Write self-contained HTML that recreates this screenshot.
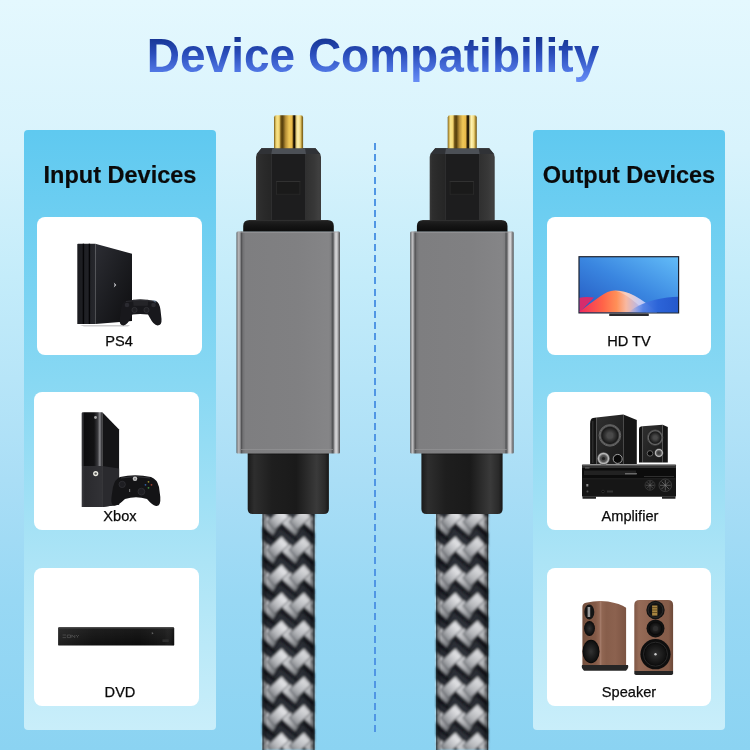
<!DOCTYPE html>
<html><head><meta charset="utf-8">
<style>
html,body{margin:0;padding:0}
body{width:750px;height:750px;position:relative;overflow:hidden;font-family:"Liberation Sans",sans-serif;
background:linear-gradient(to bottom,#e4f8fe 0%,#d8f3fc 20%,#c4ecfa 37%,#aadef6 64%,#98d8f4 80%,#8bd3f2 100%);}
.abs{position:absolute}
.title{position:absolute;left:-2px;width:750px;top:23.4px;text-align:center;font-size:46px;font-weight:700;line-height:64px;white-space:nowrap;transform:scaleY(1.05);transform-origin:50% 50%;background:linear-gradient(to bottom,#0c2480 0%,#14328f 22%,#2a4dbb 48%,#5279e6 76%,#6a8ff6 91%,#6d92f8 100%);-webkit-background-clip:text;background-clip:text;color:transparent}
.panel{position:absolute;top:130px;width:192px;height:600px;border-radius:4px;
background:linear-gradient(to bottom,#5fc9f0 0%,#88d8f3 42%,#ace4f6 72%,#c9eefa 100%)}
.ph{will-change:transform;position:absolute;left:0;width:100%;top:29.8px;text-align:center;font-size:23.5px;font-weight:700;color:#0a0a0a;-webkit-text-stroke:0.2px #0a0a0a;line-height:30px;white-space:nowrap}
.card{position:absolute;width:165px;height:138px;background:#fff;border-radius:8px}
.lbl{will-change:transform;position:absolute;width:100px;bottom:4.6px;text-align:center;font-size:14.6px;color:#0a0a0a;-webkit-text-stroke:0.25px #0a0a0a;line-height:18px;white-space:nowrap}
.dash{position:absolute;left:374px;top:143px;width:2px;height:593px;
background:repeating-linear-gradient(to bottom,#5096e4 0,#5096e4 7px,transparent 7px,transparent 11.2px)}
svg{position:absolute;left:0;top:0}
</style></head>
<body>
<div class="title">Device Compatibility</div>

<div class="panel" style="left:24px"><div class="ph">Input Devices</div></div>
<div class="panel" style="left:533px"><div class="ph">Output Devices</div></div>

<div class="dash"></div>

<div class="card" style="left:37px;top:217px"><div class="lbl" style="left:32.2px">PS4</div></div>
<div class="card" style="left:34px;top:392px"><div class="lbl" style="left:35.9px">Xbox</div></div>
<div class="card" style="left:34px;top:568px"><div class="lbl" style="left:35.5px">DVD</div></div>
<div class="card" style="left:547px;top:217px;width:164px"><div class="lbl" style="left:31.6px">HD TV</div></div>
<div class="card" style="left:547px;top:392px;width:164px"><div class="lbl" style="left:32.8px">Amplifier</div></div>
<div class="card" style="left:547px;top:568px;width:164px"><div class="lbl" style="left:32.3px">Speaker</div></div>

<svg width="750" height="750" viewBox="0 0 750 750">
<defs>
  <linearGradient id="gold" x1="0" x2="1" y1="0" y2="0">
    <stop offset="0" stop-color="#6a5218"/>
    <stop offset="0.04" stop-color="#c8a848"/>
    <stop offset="0.1" stop-color="#f8e48a"/>
    <stop offset="0.18" stop-color="#f2d470"/>
    <stop offset="0.24" stop-color="#6a4e12"/>
    <stop offset="0.3" stop-color="#5a420e"/>
    <stop offset="0.4" stop-color="#b89038"/>
    <stop offset="0.52" stop-color="#f0c858"/>
    <stop offset="0.62" stop-color="#e8b848"/>
    <stop offset="0.67" stop-color="#3a2806"/>
    <stop offset="0.71" stop-color="#120c02"/>
    <stop offset="0.76" stop-color="#d8c070"/>
    <stop offset="0.82" stop-color="#fff2b0"/>
    <stop offset="0.9" stop-color="#f0d880"/>
    <stop offset="0.96" stop-color="#a08028"/>
    <stop offset="1" stop-color="#6a5218"/>
  </linearGradient>
  <linearGradient id="metal" gradientUnits="userSpaceOnUse" x1="236.5" x2="340" y1="0" y2="0">
    <stop offset="0.0000" stop-color="#4e4e50"/>
    <stop offset="0.0077" stop-color="#8a8a8c"/>
    <stop offset="0.0222" stop-color="#bcbcbe"/>
    <stop offset="0.0367" stop-color="#909092"/>
    <stop offset="0.0464" stop-color="#505052"/>
    <stop offset="0.0628" stop-color="#727274"/>
    <stop offset="0.0870" stop-color="#7e7e80"/>
    <stop offset="0.5797" stop-color="#808082"/>
    <stop offset="0.8889" stop-color="#858587"/>
    <stop offset="0.9130" stop-color="#7e7e80"/>
    <stop offset="0.9256" stop-color="#505254"/>
    <stop offset="0.9372" stop-color="#6e6e70"/>
    <stop offset="0.9527" stop-color="#c8c8ca"/>
    <stop offset="0.9700" stop-color="#d2d2d4"/>
    <stop offset="0.9855" stop-color="#8a8a8c"/>
    <stop offset="1.0000" stop-color="#505052"/>
  </linearGradient>
  <linearGradient id="flange" x1="0" x2="0" y1="0" y2="1">
    <stop offset="0" stop-color="#2e2e2e"/>
    <stop offset="0.15" stop-color="#1e1e1e"/>
    <stop offset="0.5" stop-color="#151515"/>
    <stop offset="1" stop-color="#0c0c0c"/>
  </linearGradient>
  <linearGradient id="plug" gradientUnits="userSpaceOnUse" x1="256" x2="321" y1="0" y2="0">
    <stop offset="0" stop-color="#3a3a3a"/>
    <stop offset="0.04" stop-color="#2e2e2e"/>
    <stop offset="0.12" stop-color="#2a2a2a"/>
    <stop offset="0.23" stop-color="#262626"/>
    <stop offset="0.77" stop-color="#303030"/>
    <stop offset="0.9" stop-color="#383838"/>
    <stop offset="0.97" stop-color="#404040"/>
    <stop offset="1" stop-color="#3a3a3a"/>
  </linearGradient>
  <linearGradient id="boot" x1="0" x2="1" y1="0" y2="0">
    <stop offset="0" stop-color="#1a1a1a"/>
    <stop offset="0.08" stop-color="#2e2e2e"/>
    <stop offset="0.3" stop-color="#1e1e1e"/>
    <stop offset="0.6" stop-color="#1a1a1a"/>
    <stop offset="0.85" stop-color="#3a3a3a"/>
    <stop offset="0.95" stop-color="#2a2a2a"/>
    <stop offset="1" stop-color="#161616"/>
  </linearGradient>
  <linearGradient id="cableShade" gradientUnits="userSpaceOnUse" x1="262.5" x2="314.5" y1="0" y2="0">
    <stop offset="0" stop-color="#000" stop-opacity="0.85"/>
    <stop offset="0.03" stop-color="#000" stop-opacity="0.4"/>
    <stop offset="0.1" stop-color="#000" stop-opacity="0.05"/>
    <stop offset="0.5" stop-color="#fff" stop-opacity="0.03"/>
    <stop offset="0.9" stop-color="#000" stop-opacity="0.08"/>
    <stop offset="0.97" stop-color="#000" stop-opacity="0.4"/>
    <stop offset="1" stop-color="#000" stop-opacity="0.85"/>
  </linearGradient>
  <linearGradient id="strand" x1="0" x2="0" y1="0" y2="1">
    <stop offset="0" stop-color="#d8d8da"/>
    <stop offset="1" stop-color="#8a8c90"/>
  </linearGradient>
  <linearGradient id="sL" gradientUnits="objectBoundingBox" x1="1" y1="0" x2="0" y2="1">
    <stop offset="0" stop-color="#a8aaae"/>
    <stop offset="0.3" stop-color="#e2e3e6"/>
    <stop offset="0.6" stop-color="#b8babe"/>
    <stop offset="1" stop-color="#5e6166"/>
  </linearGradient>
  <linearGradient id="sR" gradientUnits="objectBoundingBox" x1="0" y1="0" x2="1" y2="1">
    <stop offset="0" stop-color="#a0a2a6"/>
    <stop offset="0.28" stop-color="#dcdde0"/>
    <stop offset="0.65" stop-color="#a4a6aa"/>
    <stop offset="1" stop-color="#52555a"/>
  </linearGradient>
  <filter id="soft" x="-5%" y="-5%" width="110%" height="110%"><feGaussianBlur stdDeviation="0.8"/></filter>
  <pattern id="braid" patternUnits="userSpaceOnUse" width="22.3" height="28" x="269.5" y="623.3">
    <rect width="22.3" height="28" fill="#16191f"/>
    <path d="M-12.32 -38.67 L6.70 -23.62 L0.60 -12.97 L-17.58 -29.73 Z" fill="#3a3d44" opacity="0.45"/><path d="M-12.32 -10.67 L6.70 4.38 L0.60 15.03 L-17.58 -1.73 Z" fill="#3a3d44" opacity="0.45"/><path d="M-12.32 17.33 L6.70 32.38 L0.60 43.03 L-17.58 26.27 Z" fill="#3a3d44" opacity="0.45"/><path d="M9.98 -38.67 L29.00 -23.62 L22.90 -12.97 L4.72 -29.73 Z" fill="#3a3d44" opacity="0.45"/><path d="M9.98 -10.67 L29.00 4.38 L22.90 15.03 L4.72 -1.73 Z" fill="#3a3d44" opacity="0.45"/><path d="M9.98 17.33 L29.00 32.38 L22.90 43.03 L4.72 26.27 Z" fill="#3a3d44" opacity="0.45"/><path d="M32.28 -38.67 L51.30 -23.62 L45.20 -12.97 L27.02 -29.73 Z" fill="#3a3d44" opacity="0.45"/><path d="M32.28 -10.67 L51.30 4.38 L45.20 15.03 L27.02 -1.73 Z" fill="#3a3d44" opacity="0.45"/><path d="M32.28 17.33 L51.30 32.38 L45.20 43.03 L27.02 26.27 Z" fill="#3a3d44" opacity="0.45"/>
    <g><path d="M-9.32 -29.17 L9.70 -14.12 L3.60 -3.47 L-14.58 -20.23 Z" fill="url(#sR)" stroke="#33363c" stroke-width="0.9"/><path d="M-9.32 -1.17 L9.70 13.88 L3.60 24.53 L-14.58 7.77 Z" fill="url(#sR)" stroke="#33363c" stroke-width="0.9"/><path d="M-9.32 26.83 L9.70 41.88 L3.60 52.53 L-14.58 35.77 Z" fill="url(#sR)" stroke="#33363c" stroke-width="0.9"/><path d="M12.98 -29.17 L32.00 -14.12 L25.90 -3.47 L7.72 -20.23 Z" fill="url(#sR)" stroke="#33363c" stroke-width="0.9"/><path d="M12.98 -1.17 L32.00 13.88 L25.90 24.53 L7.72 7.77 Z" fill="url(#sR)" stroke="#33363c" stroke-width="0.9"/><path d="M12.98 26.83 L32.00 41.88 L25.90 52.53 L7.72 35.77 Z" fill="url(#sR)" stroke="#33363c" stroke-width="0.9"/><path d="M35.28 -29.17 L54.30 -14.12 L48.20 -3.47 L30.02 -20.23 Z" fill="url(#sR)" stroke="#33363c" stroke-width="0.9"/><path d="M35.28 -1.17 L54.30 13.88 L48.20 24.53 L30.02 7.77 Z" fill="url(#sR)" stroke="#33363c" stroke-width="0.9"/><path d="M35.28 26.83 L54.30 41.88 L48.20 52.53 L30.02 35.77 Z" fill="url(#sR)" stroke="#33363c" stroke-width="0.9"/></g>
    <g><path d="M-10.06 -31.25 L-2.82 -22.88 L-17.30 -9.25 L-24.83 -17.62 Z" fill="url(#sL)" stroke="#3a3d43" stroke-width="0.9"/><path d="M-10.06 -3.25 L-2.82 5.12 L-17.30 18.75 L-24.83 10.38 Z" fill="url(#sL)" stroke="#3a3d43" stroke-width="0.9"/><path d="M-10.06 24.75 L-2.82 33.12 L-17.30 46.75 L-24.83 38.38 Z" fill="url(#sL)" stroke="#3a3d43" stroke-width="0.9"/><path d="M12.24 -31.25 L19.48 -22.88 L5.00 -9.25 L-2.53 -17.62 Z" fill="url(#sL)" stroke="#3a3d43" stroke-width="0.9"/><path d="M12.24 -3.25 L19.48 5.12 L5.00 18.75 L-2.53 10.38 Z" fill="url(#sL)" stroke="#3a3d43" stroke-width="0.9"/><path d="M12.24 24.75 L19.48 33.12 L5.00 46.75 L-2.53 38.38 Z" fill="url(#sL)" stroke="#3a3d43" stroke-width="0.9"/><path d="M34.54 -31.25 L41.78 -22.88 L27.30 -9.25 L19.77 -17.62 Z" fill="url(#sL)" stroke="#3a3d43" stroke-width="0.9"/><path d="M34.54 -3.25 L41.78 5.12 L27.30 18.75 L19.77 10.38 Z" fill="url(#sL)" stroke="#3a3d43" stroke-width="0.9"/><path d="M34.54 24.75 L41.78 33.12 L27.30 46.75 L19.77 38.38 Z" fill="url(#sL)" stroke="#3a3d43" stroke-width="0.9"/></g>
  </pattern>
  <g id="conn">
    <!-- cable -->
    <rect x="262.5" y="510" width="52" height="240" fill="url(#braid)" filter="url(#soft)"/>
    <rect x="262.5" y="510" width="52" height="240" fill="url(#cableShade)"/>
    <!-- strain relief -->
    <path d="M247.7 452 H328.9 V509 Q328.9 514 324 514 H252.7 Q247.7 514 247.7 509 Z" fill="url(#boot)"/>
    <rect x="247.7" y="453.5" width="81.2" height="1.5" fill="#000" opacity="0.15"/>
    <!-- housing -->
    <path d="M236.5 233 Q236.5 231.6 238 231.6 H338.5 Q340 231.6 340 233 V452.5 Q340 453.5 339 453.5 H237.5 Q236.5 453.5 236.5 452.5 Z" fill="url(#metal)"/>
    <rect x="238" y="231.6" width="100.5" height="1" fill="#a8a8aa" opacity="0.7"/>
    <rect x="241" y="449" width="92" height="0.8" fill="#939395" opacity="0.9"/>
    <!-- flange -->
    <path d="M249.5 219.9 H327.5 Q333.8 219.9 333.8 226 V231.6 H243.2 V226 Q243.2 219.9 249.5 219.9 Z" fill="url(#flange)"/>
    <path d="M249 220.5 H328" stroke="#333" stroke-width="0.6"/>
    <!-- plug body -->
    <path d="M256 157 L256.6 154.5 L261.5 148.2 H315.5 L320.4 154.5 L321 157 V219.9 H256 Z" fill="url(#plug)"/>
    <path d="M261.5 148.2 H315.5 L320.4 154 H256.6 Z" fill="#303236"/>
    <path d="M272.3 148.2 H305 L306 154 H271.3 Z" fill="#4c5056"/>
    <rect x="271.3" y="154" width="34.7" height="65.9" fill="#1d1d1e"/>
    <rect x="271.3" y="154" width="0.6" height="65.9" fill="#3a3a3a"/>
    <rect x="305.4" y="154" width="0.6" height="65.9" fill="#3e3e3e"/>
    <rect x="276" y="181.3" width="24.3" height="13" fill="#1a1a1a"/>
    <rect x="276" y="181" width="24.3" height="0.8" fill="#383838"/>
    <rect x="276" y="193.8" width="24.3" height="0.7" fill="#2c2c2c"/>
    <rect x="276" y="181" width="0.7" height="13.5" fill="#2e2e2e"/>
    <rect x="299.6" y="181" width="0.7" height="13.5" fill="#2e2e2e"/>
    <!-- gold pin -->
    <path d="M274 117.5 Q274 115.3 276.5 115.3 H300.6 Q303.1 115.3 303.1 117.5 V148.2 H274 Z" fill="url(#gold)"/>
  </g>
</defs>
<use href="#conn"/>
<use href="#conn" transform="translate(173.7 0)"/>
</svg>
<svg width="750" height="750" viewBox="0 0 750 750" style="position:absolute;left:0;top:0">
<defs>
  <linearGradient id="ps4face" x1="0" y1="0" x2="1" y2="1">
    <stop offset="0" stop-color="#2c2d33"/>
    <stop offset="0.5" stop-color="#1c1d21"/>
    <stop offset="1" stop-color="#0e0e10"/>
  </linearGradient>
  <linearGradient id="ps4side" x1="0" y1="0" x2="1" y2="0">
    <stop offset="0" stop-color="#1a1b1f"/>
    <stop offset="1" stop-color="#26272c"/>
  </linearGradient>
  <linearGradient id="xfront" x1="0" y1="0" x2="1" y2="0">
    <stop offset="0" stop-color="#222226"/>
    <stop offset="0.06" stop-color="#3a3a3e"/>
    <stop offset="0.12" stop-color="#0c0c0e"/>
    <stop offset="0.6" stop-color="#121214"/>
    <stop offset="0.78" stop-color="#3a3a3e"/>
    <stop offset="0.88" stop-color="#8a8a8e"/>
    <stop offset="0.95" stop-color="#4a4a4e"/>
    <stop offset="1" stop-color="#1a1a1c"/>
  </linearGradient>
  <linearGradient id="xfrontlow" x1="0" y1="0" x2="1" y2="0">
    <stop offset="0" stop-color="#3a3a3e"/>
    <stop offset="0.15" stop-color="#2a2a2e"/>
    <stop offset="1" stop-color="#323236"/>
  </linearGradient>
  <linearGradient id="dvdh" x1="0" y1="0" x2="1" y2="0">
    <stop offset="0" stop-color="#fff" stop-opacity="0.08"/>
    <stop offset="0.3" stop-color="#fff" stop-opacity="0.02"/>
    <stop offset="0.7" stop-color="#fff" stop-opacity="0"/>
    <stop offset="0.92" stop-color="#fff" stop-opacity="0.04"/>
    <stop offset="1" stop-color="#000" stop-opacity="0.2"/>
  </linearGradient>
  <linearGradient id="dvdg" x1="0" y1="0" x2="0" y2="1">
    <stop offset="0" stop-color="#2a2a2a"/>
    <stop offset="0.1" stop-color="#1a1a1a"/>
    <stop offset="1" stop-color="#0c0c0c"/>
  </linearGradient>
  <linearGradient id="tvbg" x1="0" y1="1" x2="1" y2="0">
    <stop offset="0" stop-color="#2458c0"/>
    <stop offset="0.5" stop-color="#3a86e0"/>
    <stop offset="1" stop-color="#62bcf8"/>
  </linearGradient>
  <linearGradient id="dune" gradientUnits="userSpaceOnUse" x1="579.6" y1="0" x2="657" y2="0">
    <stop offset="0" stop-color="#f22a5c"/>
    <stop offset="0.3" stop-color="#ff6448"/>
    <stop offset="0.48" stop-color="#ff9058"/>
    <stop offset="0.6" stop-color="#f8b8a0"/>
    <stop offset="0.78" stop-color="#b0b8f0"/>
    <stop offset="1" stop-color="#5a88e8"/>
  </linearGradient>
  <linearGradient id="wave" gradientUnits="userSpaceOnUse" x1="628" y1="0" x2="678" y2="0">
    <stop offset="0" stop-color="#7a9cf0" stop-opacity="0"/>
    <stop offset="0.3" stop-color="#4a7ce4" stop-opacity="0.9"/>
    <stop offset="0.6" stop-color="#2c64d8"/>
    <stop offset="1" stop-color="#2458cc"/>
  </linearGradient>
  <linearGradient id="wood" x1="0" y1="0" x2="1" y2="0">
    <stop offset="0" stop-color="#8a5a42"/>
    <stop offset="0.3" stop-color="#a27058"/>
    <stop offset="0.6" stop-color="#90604a"/>
    <stop offset="1" stop-color="#7a4e38"/>
  </linearGradient>
  <linearGradient id="spkface" x1="0" y1="0" x2="1" y2="1">
    <stop offset="0" stop-color="#303030"/>
    <stop offset="0.5" stop-color="#242424"/>
    <stop offset="1" stop-color="#1a1a1a"/>
  </linearGradient>
  <linearGradient id="wood2" x1="0" y1="0" x2="1" y2="0">
    <stop offset="0" stop-color="#74503e"/>
    <stop offset="0.3" stop-color="#845a47"/>
    <stop offset="0.4" stop-color="#956a56"/>
    <stop offset="0.55" stop-color="#875e4b"/>
    <stop offset="0.75" stop-color="#8c624f"/>
    <stop offset="1" stop-color="#7c5442"/>
  </linearGradient>
  <linearGradient id="wood3" x1="0" y1="0" x2="1" y2="0">
    <stop offset="0" stop-color="#7e5645"/>
    <stop offset="0.12" stop-color="#966b57"/>
    <stop offset="0.5" stop-color="#8a604d"/>
    <stop offset="0.88" stop-color="#855c49"/>
    <stop offset="1" stop-color="#6c4838"/>
  </linearGradient>
  <radialGradient id="cone" cx="0.5" cy="0.5" r="0.5">
    <stop offset="0" stop-color="#2a2a2a"/>
    <stop offset="0.3" stop-color="#444"/>
    <stop offset="0.75" stop-color="#1a1a1a"/>
    <stop offset="0.9" stop-color="#666"/>
    <stop offset="1" stop-color="#222"/>
  </radialGradient>
  <radialGradient id="silver" cx="0.5" cy="0.5" r="0.5">
    <stop offset="0" stop-color="#333"/>
    <stop offset="0.5" stop-color="#555"/>
    <stop offset="0.8" stop-color="#bbb"/>
    <stop offset="1" stop-color="#666"/>
  </radialGradient>
  <radialGradient id="wcone" cx="0.5" cy="0.5" r="0.5">
    <stop offset="0" stop-color="#333"/>
    <stop offset="0.4" stop-color="#222"/>
    <stop offset="0.85" stop-color="#111"/>
    <stop offset="1" stop-color="#050505"/>
  </radialGradient>
</defs>

<!-- ===== PS4 ===== -->
<path d="M77.3 244.5 Q77.3 243.7 78 243.7 H95.3 V324 H77.3 Z" fill="url(#ps4side)"/>
<rect x="82.7" y="243.7" width="1.4" height="80.3" fill="#050507"/>
<rect x="88.7" y="243.7" width="1.4" height="80.3" fill="#050507"/>
<path d="M95.3 243.7 L132 253.7 V321 L95.3 324 Z" fill="url(#ps4face)"/>
<path d="M113.8 282.5 L116.3 285 L113.8 287.5 L114.6 285 Z" fill="#cfd0d4"/>
<path d="M80 325 H130 L128 326.5 H84 Z" fill="#9a9a9c" opacity="0.5"/>
<!-- DS4 controller -->
<path d="M125 301 Q140 298 156 301 Q159.5 302.5 160.5 310 L161.5 319 Q162 325.5 157.5 325.5 Q153.5 325 150 318 L148 314.5 Q140 313.5 132.5 314.5 L130.5 318 Q127.5 325 123.5 325.5 Q119 325.5 119.8 319 L120.8 310 Q121.8 302.5 125 301 Z" fill="#18181c"/>
<path d="M133 299.7 H148.3 L147.8 305.7 H133.5 Z" fill="#242428"/>
<path d="M126 301.5 Q140 298.5 155 301.5" fill="none" stroke="#34343a" stroke-width="0.7"/>
<circle cx="127" cy="305" r="2.3" fill="#2a2a30"/>
<circle cx="153.5" cy="305" r="2.3" fill="#2a2a30"/>
<circle cx="134.5" cy="310" r="2.6" fill="#202024" stroke="#3a3a40" stroke-width="0.6"/>
<circle cx="146.5" cy="310" r="2.6" fill="#202024" stroke="#3a3a40" stroke-width="0.6"/>
<path d="M152 300 L156 300.8 L155.5 303 Z" fill="#7a9ab8" opacity="0.6"/>

<!-- ===== XBOX ===== -->
<path d="M102.3 412.3 L119.1 429.5 V504.7 L102.3 507 Z" fill="#141416"/>
<path d="M102.3 466 L119.1 468.5 V504.7 L102.3 507 Z" fill="#2a2a2e"/>
<path d="M83 412.3 H102.3 V466 H81.7 V413.6 Q81.7 412.3 83 412.3 Z" fill="url(#xfront)"/>
<path d="M81.7 466 H102.3 V507 H81.7 Z" fill="url(#xfrontlow)"/>
<circle cx="95.7" cy="473.6" r="2.6" fill="#e8e8e0"/>
<circle cx="95.7" cy="473.6" r="1.2" fill="#555"/>
<circle cx="95.5" cy="417.5" r="1.4" fill="#aaa"/>
<!-- Xbox one controller -->
<path d="M120 477 Q135 473.5 151 477 Q157 479 159 487 L160.3 497 Q161 506.5 156 506 Q152 505 147 499 Q136 495.5 125 499 Q119 505 114.5 505.5 Q110.5 506 111.5 497 L113 487 Q115 479 120 477 Z" fill="#141416"/>
<path d="M121 478 Q135 475 150 478" fill="none" stroke="#3a3a3e" stroke-width="0.8"/>
<circle cx="135" cy="478.8" r="2.3" fill="#c8c8c8"/>
<path d="M134 477.8 L136 479.8 M136 477.8 L134 479.8" stroke="#555" stroke-width="0.5"/>
<circle cx="122.2" cy="484.4" r="3.2" fill="#1e1e22" stroke="#38383c" stroke-width="0.6"/>
<circle cx="141.4" cy="491.6" r="3.4" fill="#1e1e22" stroke="#38383c" stroke-width="0.6"/>
<circle cx="148.5" cy="481.8" r="0.9" fill="#a09030"/>
<circle cx="151.5" cy="484.8" r="0.9" fill="#a04030"/>
<circle cx="145.5" cy="484.8" r="0.9" fill="#3060a0"/>
<circle cx="148.5" cy="487.8" r="0.9" fill="#409040"/>
<rect x="129" y="489" width="1.2" height="3" fill="#aaa" opacity="0.6"/>

<!-- ===== DVD ===== -->
<rect x="58.1" y="627.2" width="116.1" height="18.4" rx="1.2" fill="url(#dvdg)"/>
<rect x="58.6" y="627.2" width="115" height="1.2" fill="#4a4a4a"/>
<rect x="58.1" y="628.4" width="116.1" height="17.2" fill="url(#dvdh)"/>
<path d="M62.6 635 H66 M62.6 637.6 H66 M67.3 635 H70.5 V637.6 H67.3 Z M71.8 637.6 V635 L74.8 637.6 V635 M76 635 L77.5 636.5 L79 635 M77.5 636.5 V637.6" fill="none" stroke="#5e5e5e" stroke-width="0.6"/>
<rect x="162.5" y="639.3" width="6.3" height="2.7" fill="#2e2e2e"/>
<path d="M151.8 632 L153.6 633.2 L151.8 634.4 Z" fill="#666"/>

<!-- ===== TV ===== -->
<rect x="578.4" y="256.1" width="100.8" height="57.4" fill="#1c2230"/>
<rect x="579.6" y="257.3" width="98.4" height="55" fill="url(#tvbg)"/>
<path d="M579.6 297.8 Q586 296.5 594 297.6 L579.6 312.3 Z" fill="#d62c6c"/>
<path d="M579.6 311.5 Q590 303.5 600 296.5 Q608 290.8 614.2 290.6 Q624 290.5 634 295.5 Q646 302 657 312.3 H579.6 Z" fill="url(#dune)"/>
<path d="M614.2 290.6 Q626 290.8 636 296.5 Q648 303.5 657 312.3 H646 Q636 302 626 295.5 Q620 291.8 614.2 290.6 Z" fill="#fff" opacity="0.3"/>
<path d="M628 312.3 Q640 303.5 655 299.8 Q668 297 678 296.8 V312.3 Z" fill="url(#wave)"/>
<rect x="609.2" y="313.5" width="39.6" height="2.6" rx="0.6" fill="#2a2a2e"/>

<!-- ===== AMPLIFIER ===== -->
<!-- big speaker -->
<path d="M623.3 414.5 L636.8 420 V464 H623.3 Z" fill="#161616"/>
<path d="M596.5 417.5 L623.3 414.5 V464 H596.5 Z" fill="url(#spkface)"/>
<path d="M593 418 L596.5 417.5 V464 H590.1 V424 Q590.1 418.5 593 418 Z" fill="#141414"/>
<rect x="592.2" y="421" width="1.2" height="42" fill="#3a3a3a" opacity="0.8"/>
<circle cx="609.9" cy="435.4" r="10.8" fill="url(#cone)"/>
<circle cx="609.9" cy="435.4" r="10.8" fill="none" stroke="#8a8a8a" stroke-width="0.6"/>
<circle cx="609.9" cy="435.4" r="3.2" fill="#4a4a4a"/>
<circle cx="603.5" cy="458.5" r="6.3" fill="url(#silver)"/>
<circle cx="603.5" cy="458.5" r="1.6" fill="#222"/>
<circle cx="617.7" cy="458.9" r="4.5" fill="#080808" stroke="#a0a0a0" stroke-width="1"/>
<!-- small speaker -->
<path d="M662.6 424.8 L667.8 427 V462.4 H662.6 Z" fill="#141414"/>
<path d="M642.5 426.2 L662.6 424.8 V462.4 H642.5 Z" fill="url(#spkface)"/>
<path d="M641 426.4 L642.5 426.2 V462.4 H639 V429 Q639 426.6 641 426.4 Z" fill="#121212"/>
<circle cx="655.2" cy="437.6" r="7.6" fill="url(#cone)"/>
<circle cx="655.2" cy="437.6" r="7.6" fill="none" stroke="#7a7a7a" stroke-width="0.5"/>
<circle cx="655.2" cy="437.6" r="2.2" fill="#4a4a4a"/>
<circle cx="658.9" cy="452.9" r="4.4" fill="url(#silver)"/>
<circle cx="650" cy="453.4" r="2.8" fill="#080808" stroke="#8a8a8a" stroke-width="0.7"/>
<!-- receiver -->
<rect x="582" y="464.7" width="94" height="32" rx="0.8" fill="#161616"/>
<rect x="582" y="464.7" width="94" height="3.3" fill="#333"/>
<rect x="582.5" y="464.9" width="93" height="0.7" fill="#6a6a6a"/>
<rect x="582.5" y="468" width="93" height="10.5" fill="#0c0c0c"/>
<rect x="584" y="470.5" width="52" height="4.5" fill="#2c2c2c" opacity="0.7"/>
<rect x="585" y="467.5" width="4.5" height="1" fill="#888" opacity="0.7"/>
<rect x="625" y="473" width="12" height="1.4" fill="#9a9a9a" opacity="0.6"/>
<rect x="644" y="476" width="30" height="0.8" fill="#666" opacity="0.5"/>
<rect x="582.5" y="478.5" width="93" height="0.7" fill="#2a2a2a"/>
<circle cx="650" cy="485.3" r="5" fill="#1a1a1a" stroke="#444" stroke-width="0.6"/>
<path d="M650 481 V489.6 M645.7 485.3 H654.3 M647 482.3 L653 488.3 M653 482.3 L647 488.3" stroke="#8a8a8a" stroke-width="0.5" opacity="0.8"/>
<circle cx="665.3" cy="485.3" r="6.3" fill="#1a1a1a" stroke="#4a4a4a" stroke-width="0.7"/>
<path d="M665.3 480 V490.6 M660 485.3 H670.6 M661.6 481.6 L669 489 M669 481.6 L661.6 489" stroke="#9a9a9a" stroke-width="0.6" opacity="0.8"/>
<rect x="586.3" y="484" width="2" height="2.5" fill="#aaa" opacity="0.8"/>
<circle cx="587.5" cy="491.5" r="1" fill="#555"/>
<circle cx="603" cy="491.5" r="1.3" fill="#050505" stroke="#555" stroke-width="0.4"/>
<rect x="607" y="490.5" width="6" height="2" fill="#333"/>
<rect x="582.5" y="496.6" width="13.5" height="2.1" rx="0.5" fill="#222"/>
<rect x="662" y="496.6" width="13.5" height="2.1" rx="0.5" fill="#222"/>

<!-- ===== SPEAKERS ===== -->
<!-- left angled -->
<path d="M582.4 607 Q582.4 603.5 586 602.8 Q597 600 608 601.5 Q620 603.5 626.1 607.7 V665.3 H582.4 Z" fill="url(#wood2)"/>
<rect x="599.8" y="601" width="1.6" height="64.3" fill="#a98270" opacity="0.7"/>
<path d="M582 665 H628 Q629 668 626 670.7 H584 Q581 668 582 665 Z" fill="#262626"/>
<ellipse cx="589.3" cy="612" rx="5" ry="7.6" fill="#141414"/>
<rect x="587.6" y="607" width="2.6" height="10" fill="#9a9a9a"/>
<ellipse cx="589.5" cy="628.5" rx="5.4" ry="7.4" fill="url(#wcone)"/>
<ellipse cx="591" cy="651.5" rx="8.5" ry="11.8" fill="url(#wcone)"/>
<!-- right frontal -->
<path d="M634.3 605 Q634.3 599.9 639.5 599.9 H668 Q673.1 599.9 673.1 605 V671 H634.3 Z" fill="url(#wood3)"/>
<path d="M634.3 671 H673.1 V673.5 Q673.1 674.9 671.5 674.9 H636 Q634.3 674.9 634.3 673.5 Z" fill="#242424"/>
<circle cx="655.5" cy="610" r="9.2" fill="#121212"/>
<circle cx="655.5" cy="610" r="7.4" fill="none" stroke="#2e2e2e" stroke-width="0.8"/>
<rect x="652.1" y="605.5" width="5.3" height="10.1" fill="#a88440"/>
<path d="M652.1 607.6 H657.4 M652.1 610 H657.4 M652.1 612.5 H657.4" stroke="#4a3a18" stroke-width="0.7"/>
<circle cx="655.5" cy="628.4" r="9" fill="#101010"/>
<circle cx="655.5" cy="628.4" r="6.5" fill="url(#wcone)"/>
<circle cx="655.5" cy="628.4" r="2.5" fill="#2e2e2e"/>
<circle cx="655.5" cy="654.2" r="15.1" fill="#0e0e0e"/>
<circle cx="655.5" cy="654.2" r="12" fill="url(#wcone)"/>
<circle cx="655.5" cy="654.2" r="12" fill="none" stroke="#2a2a2a" stroke-width="1"/>
<circle cx="655.5" cy="654.2" r="1.2" fill="#ccc"/>
</svg>

</body></html>
